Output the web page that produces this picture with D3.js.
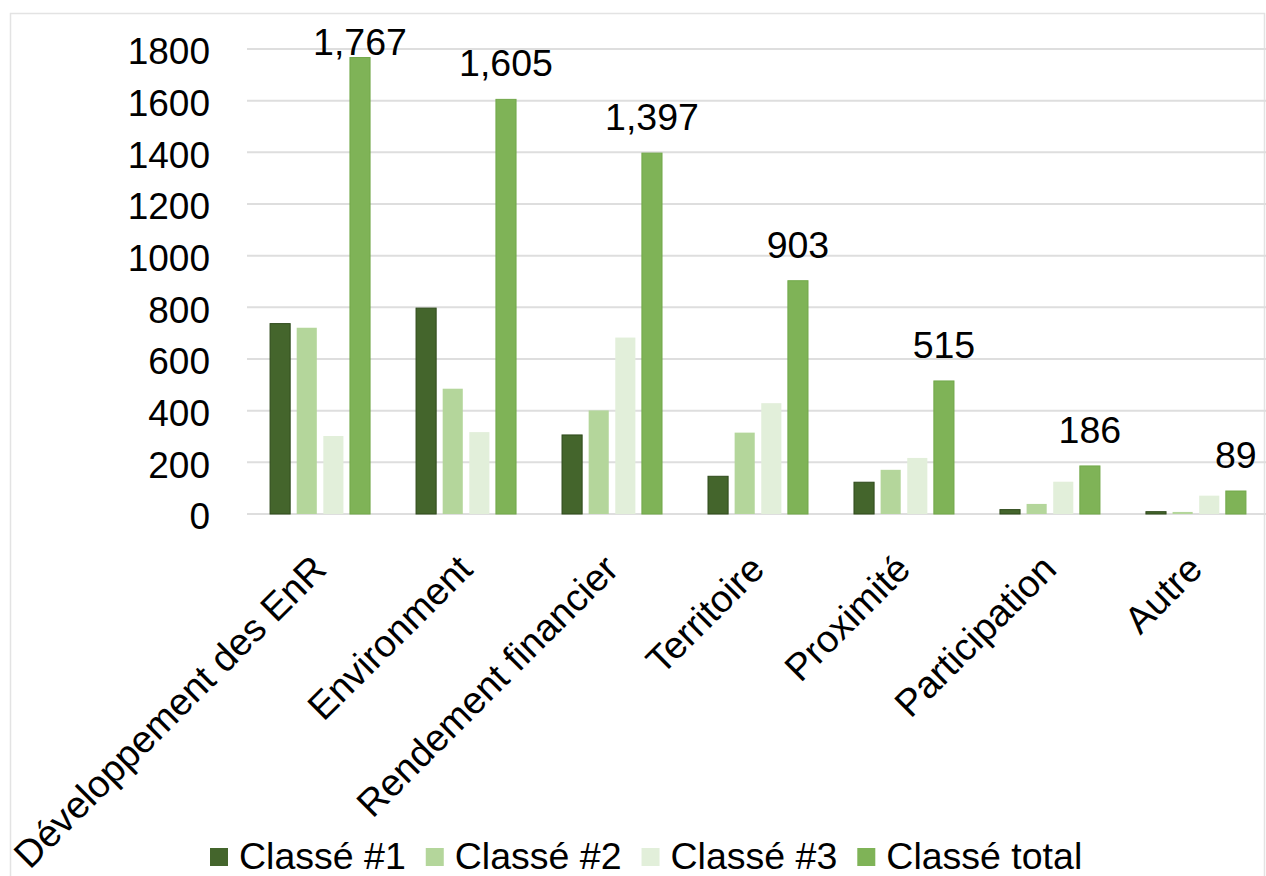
<!DOCTYPE html>
<html lang="fr">
<head>
  <meta charset="utf-8">
  <title>Classement des motivations</title>
  <script src="https://d3js.org/d3.v7.min.js"></script>
  <style>
    body { margin: 0; background: #fff; }
    text { font-family: "Liberation Sans", Arial, sans-serif; fill: #000; }
  </style>
</head>
<body>
<script>

var categories = ["Développement des EnR", "Environment", "Rendement financier",
                  "Territoire", "Proximité", "Participation", "Autre"];
var seriesNames = ["Classé #1", "Classé #2", "Classé #3", "Classé total"];
var classe1 = [737, 797, 306, 146, 123, 17, 9];
var classe2 = [721, 485, 401, 315, 171, 39, 8];
var classe3 = [302, 317, 683, 429, 217, 125, 71];
var classeTotal = [1767, 1605, 1397, 903, 515, 186, 89];
var yTicks = [0, 200, 400, 600, 800, 1000, 1200, 1400, 1600, 1800];
var colors = ["#44652c", "#b4d69b", "#e2efda", "#7fb357"];

var width = 1266, height = 876;
var margin = {left: 247, right: -3, top: 49, bottom: 362};

var svg = d3.select("body").append("svg")
    .attr("width", width)
    .attr("height", height);

// chart frame
svg.append("rect")
    .attr("x", 10.5).attr("y", 13.5)
    .attr("width", 1254).attr("height", 900)
    .attr("fill", "none")
    .attr("stroke", "#e3e3e3")
    .attr("stroke-width", 1.5);

var x0 = d3.scaleBand()
    .domain(categories)
    .range([margin.left, width - margin.right])
    .paddingInner(0.315)
    .paddingOuter(0.158);

var x1 = d3.scaleBand()
    .domain(seriesNames)
    .range([0, x0.bandwidth()])
    .paddingInner(0.245)
    .paddingOuter(0);

var y = d3.scaleLinear()
    .domain([0, 1800])
    .range([height - margin.bottom, margin.top]);

// gridlines
svg.append("g")
  .selectAll("line")
  .data(yTicks)
  .enter().append("line")
    .attr("x1", margin.left)
    .attr("x2", width)
    .attr("y1", function(d) { return y(d); })
    .attr("y2", function(d) { return y(d); })
    .attr("stroke", "#dedede")
    .attr("stroke-width", 2);

// y axis labels
var yAxis = d3.axisLeft(y).tickValues(yTicks).tickSize(0).tickPadding(0)
    .tickFormat(d3.format("d"));
var gy = svg.append("g")
    .attr("transform", "translate(210,3)")
    .call(yAxis);
gy.select(".domain").remove();
gy.selectAll("text")
    .attr("font-size", "37px")
    .attr("font-family", "Liberation Sans, Arial, sans-serif")
    .attr("fill", "#000");

// bars
var allSeries = [classe1, classe2, classe3, classeTotal];
var rows = categories.map(function(c, i) {
  return seriesNames.map(function(s, j) {
    return {cat: c, key: s, idx: j, value: allSeries[j][i]};
  });
});

var groups = svg.append("g")
  .selectAll("g")
  .data(rows)
  .enter().append("g")
    .attr("transform", function(d, i) { return "translate(" + x0(categories[i]) + ",0)"; });

groups.selectAll("rect")
  .data(function(d) { return d; })
  .enter().append("rect")
    .attr("x", function(d) { return x1(d.key); })
    .attr("y", function(d) { return y(d.value); })
    .attr("width", x1.bandwidth())
    .attr("height", function(d) { return y(0) - y(d.value); })
    .attr("fill", function(d) { return colors[d.idx]; })
    .attr("stroke", function(d) { return d.idx == 0 ? "#2e4a1b" : (d.idx == 3 ? "#72a84a" : "none"); })
    .attr("stroke-width", 1);

// data labels on total
svg.append("g")
  .selectAll("text")
  .data(classeTotal)
  .enter().append("text")
    .attr("x", function(d, i) { return x0(categories[i]) + x1("Classé total") + x1.bandwidth() / 2; })
    .attr("y", function(d) { return Math.max(y(d) - 23, 55); })
    .attr("text-anchor", "middle")
    .attr("font-size", "37.5px")
    .text(function(d) { return d3.format(",")(d); });

// category labels
svg.append("g")
  .selectAll("text")
  .data(categories)
  .enter().append("text")
    .attr("text-anchor", "end")
    .attr("dy", "0.35em")
    .attr("font-size", "38px")
    .attr("transform", function(d) {
      return "translate(" + (x0(d) + x0.bandwidth() / 2 - 1) + ",562) rotate(-45)";
    })
    .text(function(d) { return d; });

// legend
var legend = svg.append("g").attr("transform", "translate(210,856)");
var lx = 0;
seriesNames.forEach(function(name, i) {
  var item = legend.append("g").attr("transform", "translate(" + lx + ",0)");
  item.append("rect")
      .attr("x", 0).attr("y", -8)
      .attr("width", 18).attr("height", 18)
      .attr("fill", colors[i]);
  var t = item.append("text")
      .attr("x", 29).attr("dy", "0.35em")
      .attr("font-size", "37.5px")
      .text(name);
  lx += 29 + t.node().getComputedTextLength() + 20;
});

</script>
</body>
</html>
